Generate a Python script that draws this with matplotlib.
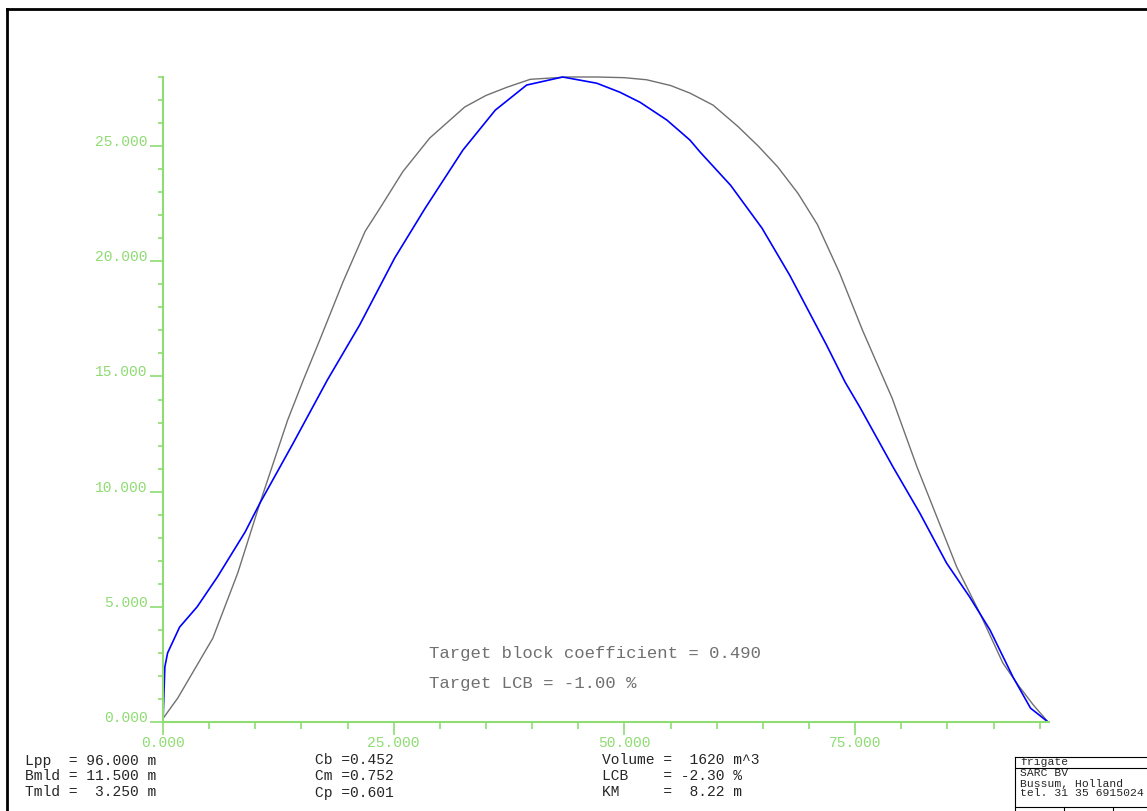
import matplotlib
matplotlib.use('Agg')
import matplotlib.pyplot as plt
from matplotlib.lines import Line2D

# sectional area curve, actual (grey) and target (blue)
grey_x = [0.0, 1.6, 5.4, 8.1, 10.5, 13.5, 15.2, 17.0, 19.5, 21.9, 23.5, 26.0,
          28.9, 32.7, 35.0, 37.3, 39.8, 43.8, 47.0, 50.0, 52.4, 55.0, 57.1,
          59.6, 62.3, 64.5, 66.6, 68.8, 70.9, 73.3, 75.8, 79.0, 81.7, 84.0,
          86.0, 88.5, 91.0, 92.7, 94.3, 95.9]
grey_y = [0.15, 1.04, 3.64, 6.47, 9.5, 13.1, 14.84, 16.6, 19.1, 21.3, 22.3,
          23.9, 25.35, 26.7, 27.2, 27.56, 27.9, 28.0, 28.0, 27.97, 27.88, 27.63,
          27.3, 26.78, 25.85, 25.0, 24.1, 22.95, 21.6, 19.5, 17.0, 14.06, 11.07,
          8.75, 6.73, 4.73, 2.56, 1.58, 0.74, 0.0]

blue_x = [0.0, 0.1, 0.2, 0.5, 1.0, 1.8, 3.7, 5.9, 8.9, 10.5, 14.1, 17.8, 21.3,
          25.1, 28.4, 32.5, 36.0, 39.4, 43.3, 47.0, 49.5, 51.7, 54.6, 57.1,
          58.2, 61.5, 64.9, 67.9, 69.9, 71.9, 73.9, 75.5, 79.1, 82.0, 84.9,
          87.4, 89.6, 92.1, 94.0, 95.9]
blue_y = [0.0, 1.2, 2.39, 3.0, 3.43, 4.12, 5.0, 6.3, 8.25, 9.5, 12.1, 14.84,
          17.23, 20.14, 22.3, 24.83, 26.56, 27.65, 28.0, 27.73, 27.34, 26.9,
          26.13, 25.26, 24.74, 23.3, 21.44, 19.4, 17.88, 16.36, 14.76, 13.67,
          11.07, 9.07, 6.9, 5.43, 4.0, 1.95, 0.6, 0.0]

x_major = [0, 25, 50, 75]
x_minor = [5, 10, 15, 20, 30, 35, 40, 45, 55, 60, 65, 70, 80, 85, 90, 95]
y_major = [0, 5, 10, 15, 20, 25]
y_minor = [1, 2, 3, 4, 6, 7, 8, 9, 11, 12, 13, 14, 16, 17, 18, 19,
           21, 22, 23, 24, 26, 27, 28]

main_lines = ['Lpp  = 96.000 m', 'Bmld = 11.500 m', 'Tmld =  3.250 m']
coef_lines = ['Cb =0.452', 'Cm =0.752', 'Cp =0.601']
hydro_lines = ['Volume =  1620 m^3', 'LCB    = -2.30 %', 'KM     =  8.22 m']
target_lines = ['Target block coefficient = 0.490', 'Target LCB = -1.00 %']
title_lines = ['frigate', 'SARC BV', 'Bussum, Holland', 'tel. 31 35 6915024']

W, H = 1147, 811
GREEN = '#8edc72'
MONO = 'Liberation Mono'


def fx(x):
    return x / W


def fy(y):
    return 1 - y / H


fig = plt.figure(figsize=(W / 100, H / 100), dpi=100)
ax = fig.add_axes([fx(163), fy(722), (1049 - 163) / W, (722 - 77) / H])

ax.plot(grey_x, grey_y, color='#707070', lw=1.0, clip_on=False)
ax.plot(blue_x, blue_y, color='#0000ff', lw=1.2, clip_on=False)

ax.set_xlim(0, 96)
ax.set_ylim(0, 28)
for s in ['top', 'right']:
    ax.spines[s].set_visible(False)
for s in ['left', 'bottom']:
    ax.spines[s].set_color(GREEN)
    ax.spines[s].set_linewidth(1.5)

ax.set_xticks(x_major)
ax.set_xticks(x_minor, minor=True)
ax.set_yticks(y_major)
ax.set_yticks(y_minor, minor=True)
ax.set_xticklabels([f'{v:.3f}' for v in x_major])
ax.set_yticklabels([f'{v:.3f}' for v in y_major])

ax.tick_params(axis='x', which='major', length=9.5, width=1.2, color=GREEN,
               labelcolor=GREEN, pad=0.5, labelsize=10.5)
ax.tick_params(axis='x', which='minor', length=5, width=1.2, color=GREEN)
ax.tick_params(axis='y', which='major', length=9.5, width=1.2, color=GREEN,
               labelcolor=GREEN, pad=1.5, labelsize=10.5)
ax.tick_params(axis='y', which='minor', length=3.6, width=1.2, color=GREEN)
for lab in ax.get_xticklabels() + ax.get_yticklabels():
    lab.set_fontfamily(MONO)
for lab in ax.get_yticklabels():
    lab.set_verticalalignment('baseline')

# target values inside the plot
for i, t in enumerate(target_lines):
    fig.text(fx(429), fy(657.7 + 30 * i), t, family=MONO, fontsize=12.4,
             color='#707070', va='baseline')

# particulars below the plot
for col_x, lines in [(25, main_lines), (315, coef_lines), (602, hydro_lines)]:
    for i, t in enumerate(lines):
        fig.text(fx(col_x), fy(764.5 + 16 * i), t, family=MONO, fontsize=10.5,
                 color='#262626', va='baseline')

# frame border
fig.add_artist(Line2D([fx(6.7), 1], [fy(9.3), fy(9.3)], color='black', lw=2,
                      solid_capstyle='projecting', transform=fig.transFigure))
fig.add_artist(Line2D([fx(6.7), fx(6.7)], [fy(9.3), 0], color='black', lw=2,
                      solid_capstyle='projecting', transform=fig.transFigure))

# title block
box = [((1015, 757), (1147, 757)), ((1015, 768), (1147, 768)),
       ((1015, 807), (1147, 807)), ((1015, 757), (1015, 811)),
       ((1064, 807), (1064, 811)), ((1113, 807), (1113, 811))]
for (x0, y0), (x1, y1) in box:
    fig.add_artist(Line2D([fx(x0), fx(x1)], [fy(y0), fy(y1)], color='black',
                          lw=0.8, transform=fig.transFigure))
for t, yb in zip(title_lines, [765, 776, 787, 796]):
    fig.text(fx(1020), fy(yb), t, family=MONO, fontsize=8.2, color='#262626',
             va='baseline')

fig.savefig('out.png', dpi=100)
